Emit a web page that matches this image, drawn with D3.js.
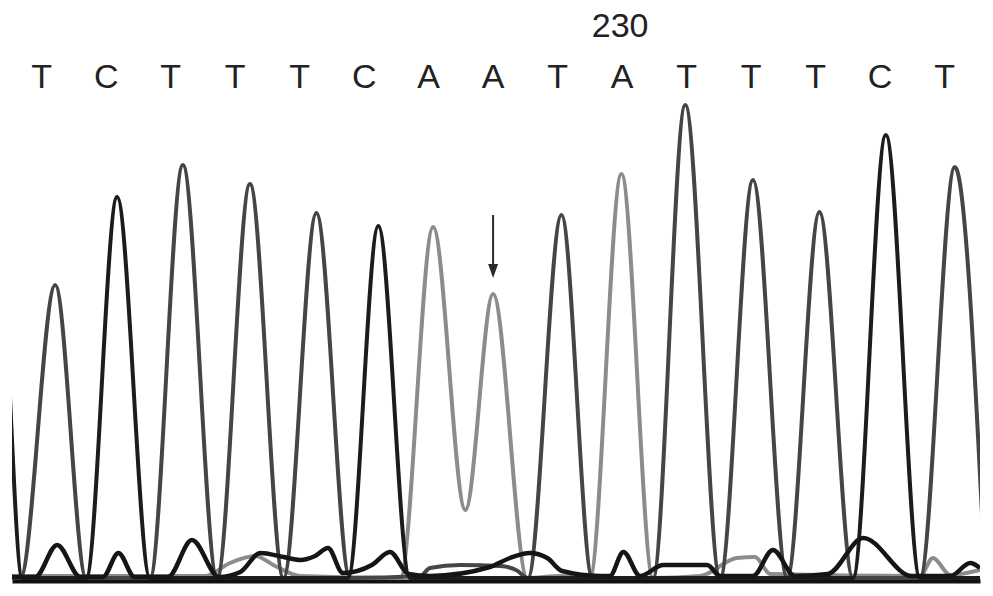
<!DOCTYPE html>
<html>
<head>
<meta charset="utf-8">
<script src="https://cdn.jsdelivr.net/npm/d3@7"></script>
<style>
  body { margin: 0; background: #fff; }
  svg { display: block; }
</style>
</head>
<body>
<div id="chart"></div>
<script>
// base calls shown above the trace, at integer base positions
const baseCalls = ["T", "C", "T", "T", "T", "C", "A", "A", "T", "A", "T", "T", "T", "C", "T"];
const callPositions = [221, 222, 223, 224, 225, 226, 227, 228, 229, 230, 231, 232, 233, 234, 235];
const positionLabels = [230];
// the arrow points at the weak A peak
const mutationPos = 228.03;

// traces: [base position, signal]
const traceA = [
  [220.57, 8], [223.57, 8], [223.95, 60], [224.34, 88], [224.65, 48], [225.04, 8],
  [226.59, 0], [227.10, 1404], [227.60, 272], [228.03, 1136], [228.56, 0], [229.07, 8],
  [229.53, 0], [230.02, 1616], [230.51, 0], [231.24, 8], [231.81, 80], [232.09, 84],
  [232.33, 16], [234.65, 8], [234.85, 80], [235.12, 12], [235.58, 32]
];
const traceT = [
  [220.57, 0], [220.70, 0], [221.24, 1172], [221.72, 0], [222.71, 0], [223.22, 1652],
  [223.75, 0], [224.26, 1576], [224.78, 0], [225.29, 1460], [225.81, 0], [226.90, 8],
  [227.05, 40], [227.52, 52], [228.14, 48], [228.40, 30], [228.57, 0], [229.09, 1452],
  [229.57, 0], [230.51, 0], [231.01, 1892], [231.55, 0], [232.06, 1592], [232.59, 0],
  [233.09, 1464], [233.61, 0], [234.65, 0], [235.19, 1644], [235.66, 0]
];
const traceC = [
  [219.93, 0], [220.36, 1380], [220.73, 0], [221.72, 0], [222.20, 1524], [222.71, 0],
  [225.78, 0], [226.25, 1408], [226.74, 0], [233.61, 0], [234.12, 1772], [234.65, 0],
  [235.58, 0]
];
const traceG = [
  [220.57, 4], [220.93, 4], [221.27, 132], [221.63, 4], [221.98, 4], [222.22, 100],
  [222.47, 4], [222.99, 4], [223.36, 152], [223.78, 4], [224.11, 24], [224.42, 100],
  [224.78, 84], [225.04, 72], [225.27, 88], [225.47, 120], [225.70, 20], [226.15, 52],
  [226.43, 104], [226.72, 16], [227.05, 8], [227.98, 44], [228.29, 80], [228.60, 100],
  [228.87, 80], [229.10, 28], [229.69, 8], [229.84, 8], [230.05, 104], [230.31, 8],
  [230.67, 52], [231.35, 52], [231.55, 8], [232.06, 8], [232.37, 112], [232.71, 8],
  [233.22, 16], [233.77, 160], [234.52, 8], [235.12, 8], [235.43, 60], [235.58, 40]
];

const channels = [
  { name: "A", color: "#8c8c8c", width: 4, data: traceA },
  { name: "T", color: "#454545", width: 4, data: traceT },
  { name: "C", color: "#1c1c1c", width: 4, data: traceC },
  { name: "G", color: "#151515", width: 4.5, data: traceG }
];

const width = 993;
const height = 596;

const x = d3.scaleLinear().domain([220.57, 235.58]).range([12, 980]);
const y = d3.scaleLinear().domain([0, 2000]).range([578, 78]);

const svg = d3.select("#chart")
    .append("svg")
    .attr("width", width)
    .attr("height", height);

svg.append("defs").append("clipPath")
    .attr("id", "plotClip")
  .append("rect")
    .attr("x", x.range()[0])
    .attr("y", 0)
    .attr("width", x.range()[1] - x.range()[0])
    .attr("height", height);

const line = d3.line()
    .x(d => x(d[0]))
    .y(d => y(d[1]))
    .curve(d3.curveMonotoneX);

// baseline
svg.append("g")
    .attr("transform", `translate(0,${y(0) + 3})`)
    .call(d3.axisBottom(x).tickValues([]).tickSizeOuter(0))
    .select(".domain")
    .attr("stroke", "#111")
    .attr("stroke-width", 4);

// one trace per dye
svg.append("g")
    .attr("clip-path", "url(#plotClip)")
  .selectAll("path")
  .data(channels)
  .join("path")
    .attr("d", d => line(d.data))
    .attr("fill", "none")
    .attr("stroke", d => d.color)
    .attr("stroke-width", d => d.width)
    .attr("stroke-linejoin", "round");

// base calls
svg.selectAll("text.call")
  .data(baseCalls)
  .join("text")
    .attr("class", "call")
    .attr("x", (d, i) => x(callPositions[i]) + 2)
    .attr("y", 88)
    .attr("text-anchor", "middle")
    .attr("font-family", "'Liberation Sans', Arial, sans-serif")
    .attr("font-size", 34)
    .attr("fill", "#222")
    .text(d => d);

// position number
svg.selectAll("text.pos")
  .data(positionLabels)
  .join("text")
    .attr("class", "pos")
    .attr("x", d => x(d))
    .attr("y", 37)
    .attr("text-anchor", "middle")
    .attr("font-family", "'Liberation Sans', Arial, sans-serif")
    .attr("font-size", 34)
    .attr("fill", "#222")
    .text(d => d);

// arrow above the weak peak
const apex = traceA.find(d => d[0] === mutationPos);
const ax = x(mutationPos);
const tip = y(apex[1]) - 16;
svg.append("line")
    .attr("x1", ax).attr("x2", ax)
    .attr("y1", tip - 63).attr("y2", tip - 10)
    .attr("stroke", "#2a2a2a")
    .attr("stroke-width", 2);
svg.append("path")
    .attr("d", `M${ax - 5},${tip - 14}L${ax + 5},${tip - 14}L${ax},${tip}Z`)
    .attr("fill", "#2a2a2a");
</script>
</body>
</html>
